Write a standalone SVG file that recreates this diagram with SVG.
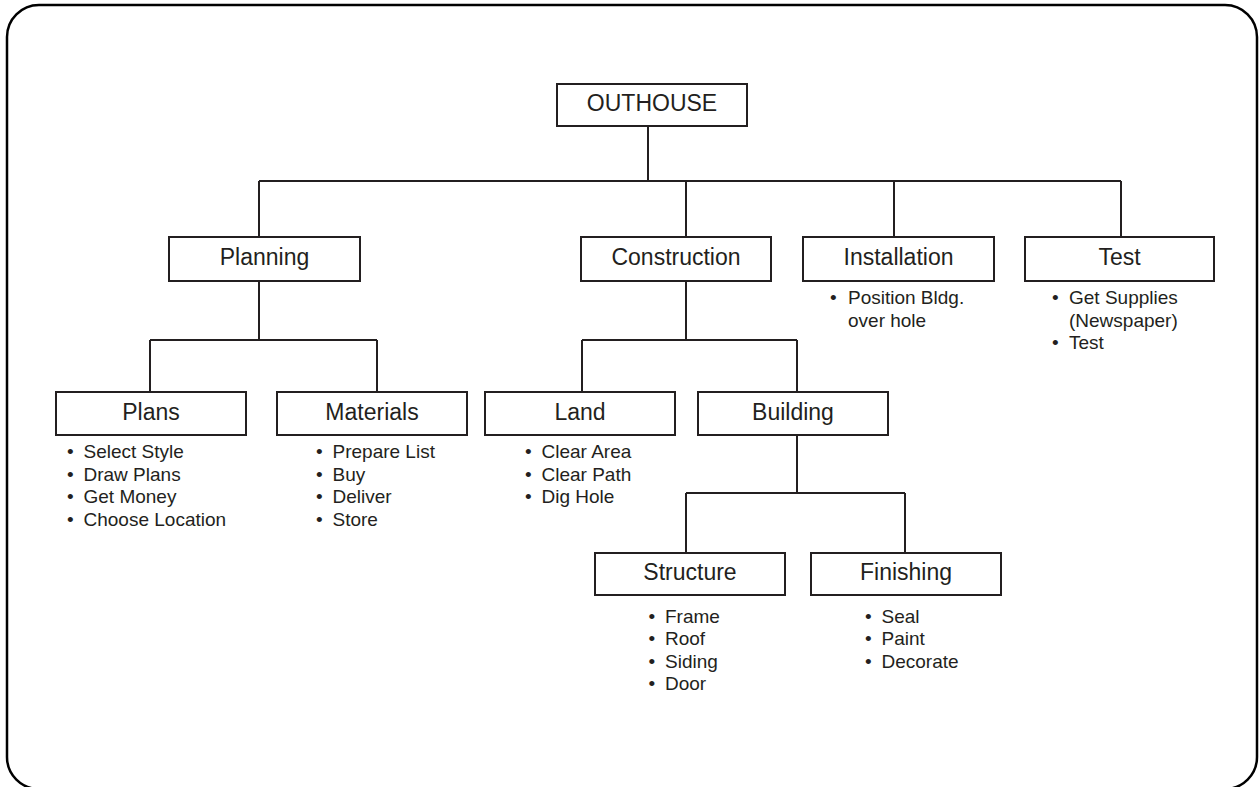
<svg xmlns="http://www.w3.org/2000/svg" width="1259" height="787" viewBox="0 0 1259 787">
<style>
.box{fill:#fff;stroke:#231f20;stroke-width:2}
.lbl{font-family:"Liberation Sans",Arial,sans-serif;font-size:23px;fill:#231f20;text-anchor:middle}
.bul{font-family:"Liberation Sans",Arial,sans-serif;font-size:19px;fill:#231f20}
.conn{fill:none;stroke:#231f20;stroke-width:2}
</style>
<rect x="0" y="0" width="1259" height="787" fill="#fff"/>
<rect x="7" y="5" width="1250" height="784" rx="32" ry="32" fill="none" stroke="#000" stroke-width="2.5"/>
<g id="connectors" class="conn">
<path d="M648 126V181M259 181H1121M259 181V237M686 181V237M894 181V237M1121 181V237"/>
<path d="M259 281V340M150 340H377M150 340V392M377 340V392"/>
<path d="M686 281V340M582 340H797M582 340V392M797 340V392"/>
<path d="M797 435V493M686 493H905M686 493V553M905 493V553"/>
</g>
<g id="outhouse"><rect class="box" x="557" y="84" width="190" height="42"/><text class="lbl" x="652" y="111">OUTHOUSE</text></g>
<g id="planning"><rect class="box" x="169" y="237" width="191" height="44"/><text class="lbl" x="264.5" y="265">Planning</text></g>
<g id="construction"><rect class="box" x="581" y="237" width="190" height="44"/><text class="lbl" x="676" y="265">Construction</text></g>
<g id="installation"><rect class="box" x="803" y="237" width="191" height="44"/><text class="lbl" x="898.5" y="265">Installation</text>
<text class="bul"><tspan x="830" y="304">•</tspan><tspan x="848" y="304">Position Bldg.</tspan><tspan x="848" y="326.5">over hole</tspan></text></g>
<g id="test"><rect class="box" x="1025" y="237" width="189" height="44"/><text class="lbl" x="1119.5" y="265">Test</text>
<text class="bul"><tspan x="1052" y="304">•</tspan><tspan x="1069" y="304">Get Supplies</tspan><tspan x="1069" y="326.5">(Newspaper)</tspan><tspan x="1052" y="349">•</tspan><tspan x="1069" y="349">Test</tspan></text></g>
<g id="plans"><rect class="box" x="56" y="392" width="190" height="43"/><text class="lbl" x="151" y="420">Plans</text>
<text class="bul"><tspan x="67" y="458">•</tspan><tspan x="83.5" y="458">Select Style</tspan><tspan x="67" y="480.5">•</tspan><tspan x="83.5" y="480.5">Draw Plans</tspan><tspan x="67" y="503">•</tspan><tspan x="83.5" y="503">Get Money</tspan><tspan x="67" y="525.5">•</tspan><tspan x="83.5" y="525.5">Choose Location</tspan></text></g>
<g id="materials"><rect class="box" x="277" y="392" width="190" height="43"/><text class="lbl" x="372" y="420">Materials</text>
<text class="bul"><tspan x="316" y="458">•</tspan><tspan x="332.5" y="458">Prepare List</tspan><tspan x="316" y="480.5">•</tspan><tspan x="332.5" y="480.5">Buy</tspan><tspan x="316" y="503">•</tspan><tspan x="332.5" y="503">Deliver</tspan><tspan x="316" y="525.5">•</tspan><tspan x="332.5" y="525.5">Store</tspan></text></g>
<g id="land"><rect class="box" x="485" y="392" width="190" height="43"/><text class="lbl" x="580" y="420">Land</text>
<text class="bul"><tspan x="525" y="458">•</tspan><tspan x="541.5" y="458">Clear Area</tspan><tspan x="525" y="480.5">•</tspan><tspan x="541.5" y="480.5">Clear Path</tspan><tspan x="525" y="503">•</tspan><tspan x="541.5" y="503">Dig Hole</tspan></text></g>
<g id="building"><rect class="box" x="698" y="392" width="190" height="43"/><text class="lbl" x="793" y="420">Building</text></g>
<g id="structure"><rect class="box" x="595" y="553" width="190" height="42"/><text class="lbl" x="690" y="580">Structure</text>
<text class="bul"><tspan x="648.5" y="622.5">•</tspan><tspan x="665" y="622.5">Frame</tspan><tspan x="648.5" y="645">•</tspan><tspan x="665" y="645">Roof</tspan><tspan x="648.5" y="667.5">•</tspan><tspan x="665" y="667.5">Siding</tspan><tspan x="648.5" y="690">•</tspan><tspan x="665" y="690">Door</tspan></text></g>
<g id="finishing"><rect class="box" x="811" y="553" width="190" height="42"/><text class="lbl" x="906" y="580">Finishing</text>
<text class="bul"><tspan x="865" y="622.5">•</tspan><tspan x="881.5" y="622.5">Seal</tspan><tspan x="865" y="645">•</tspan><tspan x="881.5" y="645">Paint</tspan><tspan x="865" y="667.5">•</tspan><tspan x="881.5" y="667.5">Decorate</tspan></text></g>
</svg>
